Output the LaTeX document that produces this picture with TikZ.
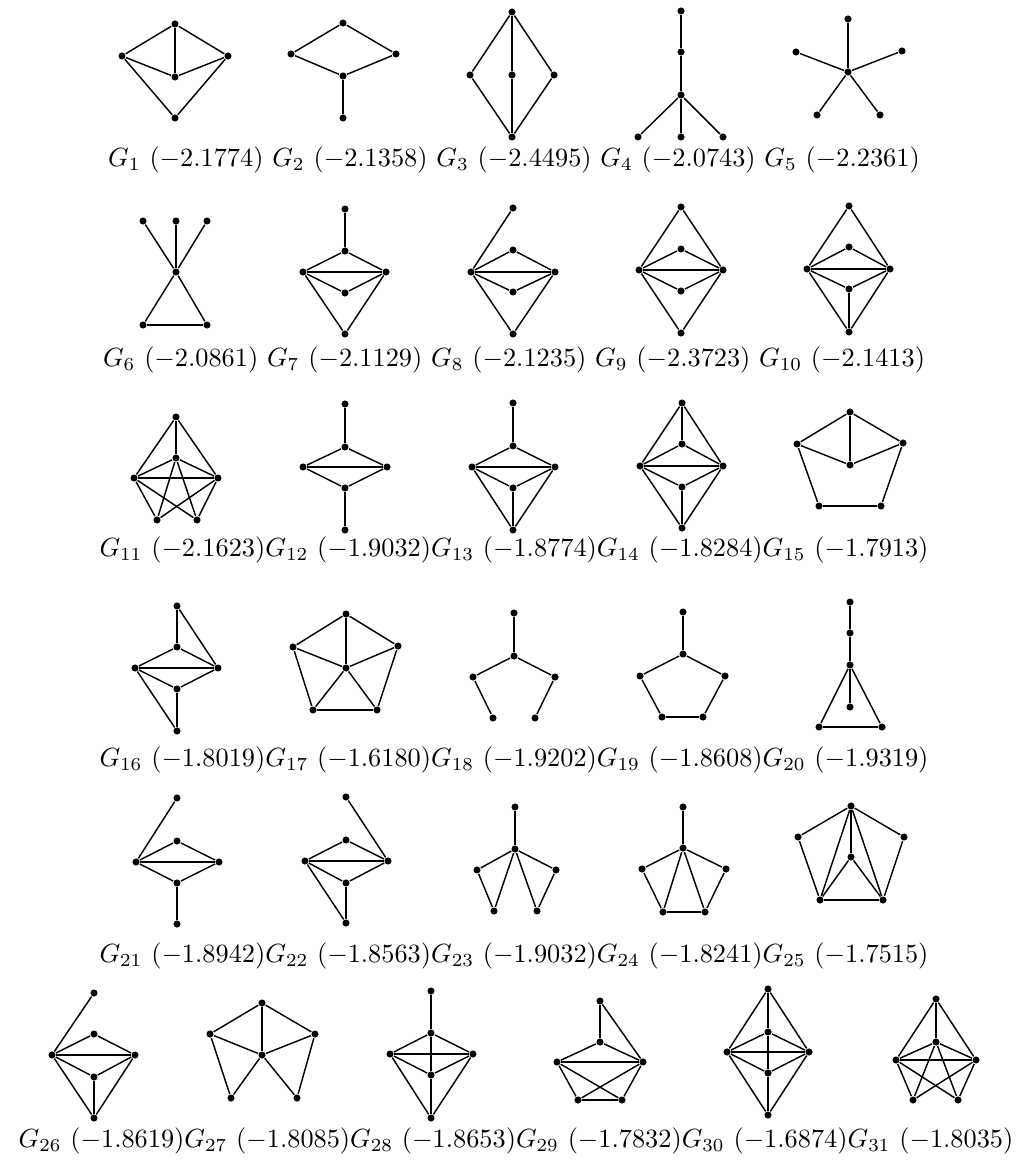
\documentclass[tikz,border=0pt]{standalone}
\usepackage{amsmath, amssymb}
\usepackage{tikz}

\begin{document}
\begin{tikzpicture}[x=0.38pt, y=-0.38pt,
    dot/.style={circle, fill=black, inner sep=0pt, minimum size=2.7pt},
    every path/.style={line width=0.55pt}]
    \useasboundingbox (0,0) rectangle (1024,1164);

    % 1. Hàng thứ nhất: G1 -- G5
    \foreach \n/\x/\y in {t/175/24, l/122/56, r/228/56, c/175/77, b/175/118}
        \node[dot] (G1\n) at (\x,\y) {};
    \foreach \u/\v in {t/l, t/r, t/c, l/c, r/c, l/b, r/b}
        \draw (G1\u) -- (G1\v);

    \foreach \n/\x/\y in {t/343/23, l/291/54, r/396/54, c/343/76, b/343/118}
        \node[dot] (G2\n) at (\x,\y) {};
    \foreach \u/\v in {t/l, t/r, l/c, r/c, c/b}
        \draw (G2\u) -- (G2\v);

    \foreach \n/\x/\y in {t/512/12, l/470/75, c/512/75, r/554/75, b/512/137}
        \node[dot] (G3\n) at (\x,\y) {};
    \foreach \u/\v in {t/l, t/c, t/r, l/b, c/b, r/b}
        \draw (G3\u) -- (G3\v);

    \foreach \n/\x/\y in {a/681/11, b/681/52, c/681/95, l/638/137, m/681/137, r/723/137}
        \node[dot] (G4\n) at (\x,\y) {};
    \foreach \u/\v in {a/b, b/c, c/l, c/m, c/r}
        \draw (G4\u) -- (G4\v);

    \foreach \n/\x/\y in {c/848/72, t/848/19, l/796/52, r/902/51, p/817/115, q/880/115}
        \node[dot] (G5\n) at (\x,\y) {};
    \foreach \v in {t, l, r, p, q}
        \draw (G5c) -- (G5\v);

    \node (lab1) at (514,160) {$G_1\ (-2.1774)\ G_2\ (-2.1358)\ G_3\ (-2.4495)\ G_4\ (-2.0743)\ G_5\ (-2.2361)$};

    % 2. Hàng thứ hai: G6 -- G10
    \foreach \n/\x/\y in {a/143/221, b/176/221, d/207/221, c/176/272, p/143/325, q/207/325}
        \node[dot] (G6\n) at (\x,\y) {};
    \foreach \u/\v in {a/c, b/c, d/c, c/p, c/q, p/q}
        \draw (G6\u) -- (G6\v);

    \foreach \n/\x/\y in {t/345/209, u/345/251, l/303/272, r/386/272, w/345/293, b/345/334}
        \node[dot] (G7\n) at (\x,\y) {};
    \foreach \u/\v in {t/u, u/l, u/r, l/r, l/w, r/w, l/b, r/b}
        \draw (G7\u) -- (G7\v);

    \foreach \n/\x/\y in {t/513/208, u/513/250, l/471/272, r/555/272, w/513/292, b/513/334}
        \node[dot] (G8\n) at (\x,\y) {};
    \foreach \u/\v in {t/l, u/l, u/r, l/r, l/w, r/w, l/b, r/b}
        \draw (G8\u) -- (G8\v);

    \foreach \n/\x/\y in {t/681/207, u/681/249, l/639/270, r/723/270, w/681/291, b/681/333}
        \node[dot] (G9\n) at (\x,\y) {};
    \foreach \u/\v in {t/l, t/r, u/l, u/r, l/r, l/w, r/w, l/b, r/b}
        \draw (G9\u) -- (G9\v);

    \foreach \n/\x/\y in {t/849/206, u/849/247, l/807/269, r/890/269, w/849/289, b/849/332}
        \node[dot] (G10\n) at (\x,\y) {};
    \foreach \u/\v in {t/l, t/r, u/l, u/r, l/r, l/w, r/w, w/b, l/b, r/b}
        \draw (G10\u) -- (G10\v);

    \node (lab2) at (514,360) {$G_6\ (-2.0861)\ G_7\ (-2.1129)\ G_8\ (-2.1235)\ G_9\ (-2.3723)\ G_{10}\ (-2.1413)$};

    % 3. Hàng thứ ba: G11 -- G15
    \foreach \n/\x/\y in {t/176/417, c/176/458, l/134/478, r/218/478, p/157/520, q/197/520}
        \node[dot] (G11\n) at (\x,\y) {};
    \foreach \u/\v in {t/l, t/r, t/c, c/l, c/r, l/r, l/p, r/q, c/p, c/q, l/q, r/p}
        \draw (G11\u) -- (G11\v);

    \foreach \n/\x/\y in {t/345/404, u/345/447, l/303/467, r/387/467, w/345/488, b/345/530}
        \node[dot] (G12\n) at (\x,\y) {};
    \foreach \u/\v in {t/u, u/l, u/r, l/r, l/w, r/w, w/b}
        \draw (G12\u) -- (G12\v);

    \foreach \n/\x/\y in {t/513/403, u/513/446, l/472/467, r/555/467, w/513/488, b/513/530}
        \node[dot] (G13\n) at (\x,\y) {};
    \foreach \u/\v in {t/u, u/l, u/r, l/r, l/w, r/w, w/b, l/b, r/b}
        \draw (G13\u) -- (G13\v);

    \foreach \n/\x/\y in {t/682/403, u/682/444, l/640/466, r/723/466, w/682/487, b/682/528}
        \node[dot] (G14\n) at (\x,\y) {};
    \foreach \u/\v in {t/u, t/l, t/r, u/l, u/r, l/r, l/w, r/w, w/b, l/b, r/b}
        \draw (G14\u) -- (G14\v);

    \foreach \n/\x/\y in {t/850/412, l/797/444, r/903/443, c/850/465, p/819/506, q/881/506}
        \node[dot] (G15\n) at (\x,\y) {};
    \foreach \u/\v in {t/l, t/r, t/c, l/c, r/c, l/p, r/q, p/q}
        \draw (G15\u) -- (G15\v);

    \node (lab3) at (514,550) {$G_{11}\ (-2.1623)G_{12}\ (-1.9032)G_{13}\ (-1.8774)G_{14}\ (-1.8284)G_{15}\ (-1.7913)$};

    % 4. Hàng thứ tư: G16 -- G20
    \foreach \n/\x/\y in {t/177/606, u/177/647, l/135/668, r/218/668, w/177/689, b/177/731}
        \node[dot] (G16\n) at (\x,\y) {};
    \foreach \u/\v in {t/u, t/r, u/l, u/r, l/r, l/w, r/w, w/b, l/b}
        \draw (G16\u) -- (G16\v);

    \foreach \n/\x/\y in {t/346/614, l/293/647, r/398/646, c/346/668, p/313/710, q/377/710}
        \node[dot] (G17\n) at (\x,\y) {};
    \foreach \u/\v in {t/l, t/r, t/c, l/c, r/c, l/p, r/q, c/p, c/q, p/q}
        \draw (G17\u) -- (G17\v);

    \foreach \n/\x/\y in {t/514/613, c/514/656, l/473/677, r/555/677, p/493/718, q/535/718}
        \node[dot] (G18\n) at (\x,\y) {};
    \foreach \u/\v in {t/c, c/l, c/r, l/p, r/q}
        \draw (G18\u) -- (G18\v);

    \foreach \n/\x/\y in {t/683/612, c/683/654, l/640/676, r/725/676, p/662/717, q/703/717}
        \node[dot] (G19\n) at (\x,\y) {};
    \foreach \u/\v in {t/c, c/l, c/r, l/p, r/q, p/q}
        \draw (G19\u) -- (G19\v);

    \foreach \n/\x/\y in {a/850/602, b/850/633, c/850/665, d/850/707, p/819/727, q/882/727}
        \node[dot] (G20\n) at (\x,\y) {};
    \foreach \u/\v in {a/b, b/c, c/d, c/p, c/q, p/q}
        \draw (G20\u) -- (G20\v);

    \node (lab4) at (514,760) {$G_{16}\ (-1.8019)G_{17}\ (-1.6180)G_{18}\ (-1.9202)G_{19}\ (-1.8608)G_{20}\ (-1.9319)$};

    % 5. Hàng thứ năm: G21 -- G25
    \foreach \n/\x/\y in {t/177/798, u/177/841, l/136/862, r/219/862, w/177/883, b/177/924}
        \node[dot] (G21\n) at (\x,\y) {};
    \foreach \u/\v in {t/l, u/l, u/r, l/r, l/w, r/w, w/b}
        \draw (G21\u) -- (G21\v);

    \foreach \n/\x/\y in {t/346/797, u/346/840, l/305/861, r/388/861, w/346/883, b/346/923}
        \node[dot] (G22\n) at (\x,\y) {};
    \foreach \u/\v in {t/r, u/l, u/r, l/r, l/w, r/w, w/b, l/b}
        \draw (G22\u) -- (G22\v);

    \foreach \n/\x/\y in {t/515/807, c/515/849, l/477/870, r/556/870, p/494/911, q/537/911}
        \node[dot] (G23\n) at (\x,\y) {};
    \foreach \u/\v in {t/c, c/l, c/r, l/p, c/p, c/q, r/q}
        \draw (G23\u) -- (G23\v);

    \foreach \n/\x/\y in {t/683/807, c/683/848, l/642/869, r/726/869, p/663/912, q/705/912}
        \node[dot] (G24\n) at (\x,\y) {};
    \foreach \u/\v in {t/c, c/l, c/r, c/p, c/q, l/p, r/q, p/q}
        \draw (G24\u) -- (G24\v);

    \foreach \n/\x/\y in {t/851/806, l/798/837, r/904/837, c/851/857, p/820/900, q/883/900}
        \node[dot] (G25\n) at (\x,\y) {};
    \foreach \u/\v in {t/l, t/r, t/c, t/p, t/q, l/p, r/q, p/q, c/p, c/q}
        \draw (G25\u) -- (G25\v);

    \node (lab5) at (514,956) {$G_{21}\ (-1.8942)G_{22}\ (-1.8563)G_{23}\ (-1.9032)G_{24}\ (-1.8241)G_{25}\ (-1.7515)$};

    % 6. Hàng thứ sáu: G26 -- G31
    \foreach \n/\x/\y in {t/94/993, u/94/1034, l/52/1055, r/135/1055, w/94/1077, b/94/1118}
        \node[dot] (G26\n) at (\x,\y) {};
    \foreach \u/\v in {t/l, u/l, u/r, l/r, l/w, r/w, w/b, l/b, r/b}
        \draw (G26\u) -- (G26\v);

    \foreach \n/\x/\y in {t/262/1003, l/210/1034, r/315/1034, c/262/1055, p/231/1098, q/297/1098}
        \node[dot] (G27\n) at (\x,\y) {};
    \foreach \u/\v in {t/l, t/r, t/c, l/c, r/c, l/p, c/p, c/q, r/q}
        \draw (G27\u) -- (G27\v);

    \foreach \n/\x/\y in {t/431/991, c/431/1033, l/390/1054, r/473/1054, w/431/1075, b/431/1118}
        \node[dot] (G28\n) at (\x,\y) {};
    \foreach \u/\v in {t/c, c/l, c/r, l/r, c/w, l/w, r/w, w/b, l/b, r/b}
        \draw (G28\u) -- (G28\v);

    \foreach \n/\x/\y in {t/600/1001, c/600/1042, l/557/1062, r/643/1062, p/578/1100, q/622/1100}
        \node[dot] (G29\n) at (\x,\y) {};
    \foreach \u/\v in {t/c, t/r, c/l, c/r, l/r, l/q, r/p, l/p, r/q, p/q}
        \draw (G29\u) -- (G29\v);

    \foreach \n/\x/\y in {t/768/989, c/768/1032, l/727/1052, r/809/1052, w/768/1073, b/768/1115}
        \node[dot] (G30\n) at (\x,\y) {};
    \foreach \u/\v in {t/c, t/l, t/r, c/l, c/r, l/r, c/w, l/w, r/w, w/b, l/b, r/b}
        \draw (G30\u) -- (G30\v);

    \foreach \n/\x/\y in {t/936/999, c/936/1042, l/896/1060, r/976/1060, p/913/1100, q/958/1100}
        \node[dot] (G31\n) at (\x,\y) {};
    \foreach \u/\v in {t/l, t/r, t/c, c/l, c/r, c/p, c/q, l/r, l/q, r/p, l/p, r/q}
        \draw (G31\u) -- (G31\v);

    \node (lab6) at (516,1141) {$G_{26}\ (-1.8619)G_{27}\ (-1.8085)G_{28}\ (-1.8653)G_{29}\ (-1.7832)G_{30}\ (-1.6874)G_{31}\ (-1.8035)$};
\end{tikzpicture}
\end{document}
